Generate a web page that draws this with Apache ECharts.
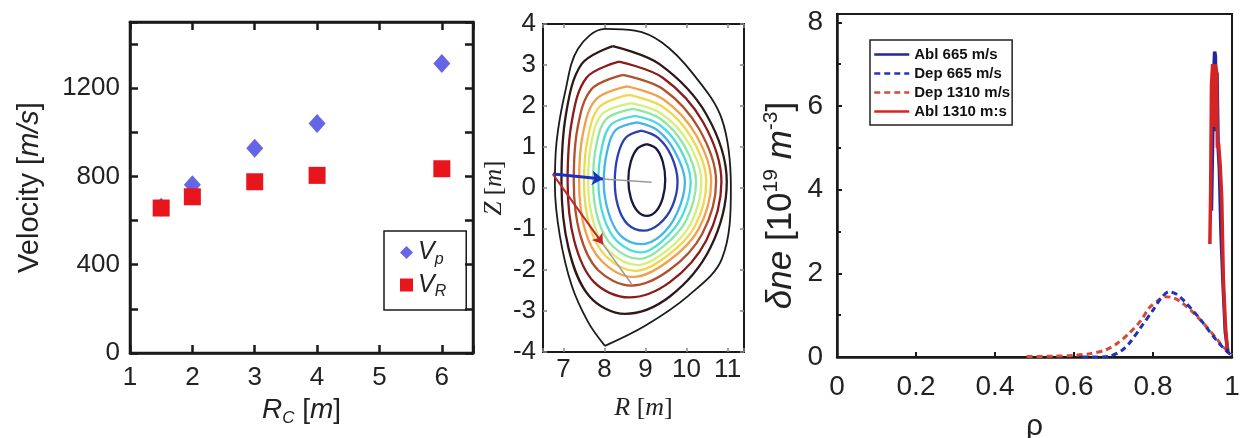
<!DOCTYPE html>
<html><head><meta charset="utf-8">
<script src="https://cdn.jsdelivr.net/npm/echarts@6/dist/echarts.min.js"></script>
<style>html,body{margin:0;padding:0;background:#fff}#c{width:1243px;height:438px}</style>
</head><body><div id="c"></div>
<script>
// ---------- Panel 1: velocity vs R_C ----------
const rcValues = [1.5, 2, 3, 4, 6];
const vpValues = [660, 762, 928, 1040, 1312];
const vrValues = [657, 708, 776, 805, 835];

// ---------- Panel 2: flux surfaces [R, Z] ----------
const contour1 = [[8.01,-3.85],[7.6,-3.27],[7.2,-2.38],[6.91,-1.16],[6.79,0.06],[6.83,1.12],[7.04,2.34],[7.35,3.39],[8.01,3.88],[8.74,3.84],[9.4,3.55],[10.13,2.82],[10.86,1.68],[11.08,0.0],[10.86,-1.73],[10.04,-2.63],[8.99,-3.36],[8.01,-3.85]];
const contour2 = [[8.2,3.46],[9.34,3.02],[10.48,1.8],[10.98,0.15],[10.58,-1.46],[9.6,-2.64],[8.5,-3.07],[7.63,-2.64],[7.12,-1.46],[6.95,0.15],[7.06,1.8],[7.44,3.02],[8.2,3.46]];
const contour3 = [[8.35,3.08],[9.42,2.69],[10.4,1.61],[10.85,0.15],[10.48,-1.28],[9.6,-2.29],[8.6,-2.67],[7.74,-2.29],[7.26,-1.28],[7.1,0.15],[7.2,1.61],[7.56,2.69],[8.35,3.08]];
const contour4 = [[8.45,2.76],[9.43,2.41],[10.3,1.45],[10.72,0.15],[10.38,-1.12],[9.58,-2.0],[8.65,-2.38],[7.84,-2.0],[7.4,-1.12],[7.25,0.15],[7.34,1.45],[7.68,2.41],[8.45,2.76]];
const contour5 = [[8.55,2.48],[9.44,2.16],[10.22,1.31],[10.6,0.15],[10.29,-1.01],[9.56,-1.78],[8.7,-2.17],[7.93,-1.78],[7.52,-1.01],[7.38,0.15],[7.47,1.31],[7.79,2.16],[8.55,2.48]];
const contour6 = [[8.6,2.27],[9.42,1.98],[10.13,1.21],[10.48,0.15],[10.2,-0.94],[9.52,-1.66],[8.75,-2.02],[8.03,-1.66],[7.64,-0.94],[7.5,0.15],[7.59,1.21],[7.88,1.98],[8.6,2.27]];
const contour7 = [[8.65,2.07],[9.39,1.81],[10.04,1.11],[10.36,0.15],[10.1,-0.87],[9.5,-1.54],[8.8,-1.88],[8.11,-1.54],[7.74,-0.87],[7.6,0.15],[7.68,1.11],[7.95,1.81],[8.65,2.07]];
const contour8 = [[8.7,1.93],[9.36,1.69],[9.94,1.04],[10.23,0.15],[9.99,-0.79],[9.44,-1.42],[8.85,-1.73],[8.2,-1.42],[7.85,-0.79],[7.72,0.15],[7.8,1.04],[8.05,1.69],[8.7,1.93]];
const contour9 = [[8.75,1.76],[9.33,1.55],[9.84,0.96],[10.1,0.15],[9.88,-0.71],[9.4,-1.3],[8.9,-1.57],[8.31,-1.3],[7.98,-0.71],[7.85,0.15],[7.93,0.96],[8.16,1.55],[8.75,1.76]];
const contour10 = [[8.8,1.6],[9.29,1.41],[9.72,0.88],[9.96,0.15],[9.77,-0.61],[9.37,-1.16],[8.9,-1.37],[8.39,-1.16],[8.1,-0.61],[7.98,0.15],[8.06,0.88],[8.27,1.41],[8.8,1.6]];
const contour11 = [[8.9,1.4],[9.3,1.23],[9.63,0.78],[9.78,0.15],[9.65,-0.45],[9.33,-0.88],[8.95,-1.04],[8.56,-0.88],[8.33,-0.45],[8.25,0.15],[8.32,0.78],[8.52,1.23],[8.9,1.4]];
const contour12 = [[9.03,1.07],[9.26,0.96],[9.42,0.64],[9.48,0.2],[9.42,-0.24],[9.26,-0.56],[9.03,-0.68],[8.8,-0.56],[8.64,-0.24],[8.58,0.2],[8.64,0.64],[8.8,0.96],[9.03,1.07]];
const contours = [contour1,contour2,contour3,contour4,contour5,contour6,contour7,contour8,contour9,contour10,contour11,contour12];
const contourColors = ['#1c1c1c','#2e1818','#8a1c1c','#b0502c','#f0a04e','#f0d84e','#d6ee7a','#8fe6a6','#4fdcdc','#44b4ea','#2c3fae','#17183f'];
const blueArrow = [[6.74,0.34],[7.96,0.22]];
const blueRay = [[7.96,0.22],[9.15,0.14]];
const redArrow = [[6.74,0.34],[7.96,-1.37]];
const redRay = [[7.96,-1.37],[8.66,-2.34]];

// ---------- Panel 3: density perturbation vs rho ----------
const rhoAbl665 = [0.948,0.951,0.953,0.956,0.958,0.960,0.962,0.965,0.968,0.972,0.977,0.983,0.990];
const abl665    = [3.5,  5.2,  6.6,  7.3,  7.2,  5.4,  6.8,  5.0,  4.5,  3.0,  1.8,  0.6,  0.1];
const rhoDep665 = [0.62,0.66,0.69,0.72,0.74,0.77,0.80,0.82,0.84,0.86,0.88,0.90,0.92,0.94,0.96,0.98,1.0];
const dep665    = [0.0, 0.0, 0.02,0.15,0.33,0.72,1.12,1.4, 1.56,1.5, 1.33,1.12,0.9, 0.65,0.41,0.2, 0.03];
const rhoDep1310 = [0.48,0.55,0.60,0.64,0.68,0.71,0.74,0.77,0.79,0.81,0.83,0.85,0.87,0.90,0.93,0.96,0.98,1.0];
const dep1310    = [0.01,0.02,0.04,0.08,0.17,0.33,0.57,0.88,1.17,1.33,1.44,1.42,1.32,1.08,0.78,0.45,0.22,0.05];
const rhoAbl1310 = [0.944,0.946,0.948,0.951,0.954,0.956,0.958,0.961,0.963,0.966,0.970,0.974,0.978,0.983,0.988];
const abl1310    = [2.7,  4.0,  6.5,  7.0,  6.6,  5.5,  7.0,  6.8,  5.0,  5.1,  4.6,  3.8,  1.9,  0.8,  0.2];

const zip = (a, b) => a.map((v, i) => [v, b[i]]);

const SANS = 'Liberation Sans';
const SERIF = 'Liberation Serif';
const INK = '#1a1a1a';

function boxAxis(gridIndex, opts) {
  return Object.assign({
    gridIndex, type: 'value', splitLine: { show: false },
    axisLine: { show: true, onZero: false, lineStyle: { color: INK, width: 2.5 } },
    axisTick: { show: true, inside: true, length: 8, lineStyle: { color: INK, width: 2.5 } },
    axisLabel: { show: false }
  }, opts);
}

const option = {
  animation: false,
  backgroundColor: '#fff',
  grid: [
    { left: 130, top: 22, width: 343, height: 331, show: true, borderColor: INK, borderWidth: 2.5, outerBoundsMode: 'none', containLabel: false },
    { left: 543, top: 24, width: 201, height: 328, show: true, borderColor: INK, borderWidth: 2, outerBoundsMode: 'none', containLabel: false },
    { left: 837, top: 14, width: 395, height: 343, show: true, borderColor: INK, borderWidth: 2, outerBoundsMode: 'none', containLabel: false }
  ],
  xAxis: [
    boxAxis(0, { min: 1, max: 6.5, interval: 1, position: 'bottom',
      axisLabel: { show: true, fontSize: 26, color: '#222', fontFamily: SANS, margin: 12,
        formatter: v => Number.isInteger(v) ? String(v) : '' },
      name: '{i|R}{sub|C}{n| [}{i|m}{n|]}', nameLocation: 'middle', nameGap: 38,
      nameTextStyle: { color: '#222', rich: {
        i: { fontSize: 28, fontStyle: 'italic', fontFamily: SANS, color: '#222', lineHeight: 34 },
        n: { fontSize: 28, fontFamily: SANS, color: '#222', lineHeight: 34 },
        sub: { fontSize: 17, fontStyle: 'italic', fontFamily: SANS, color: '#222', lineHeight: 14, verticalAlign: 'bottom' } } } }),
    boxAxis(0, { min: 1, max: 6.5, interval: 1, position: 'top' }),
    boxAxis(1, { min: 6.5, max: 11.4, splitNumber: 5, position: 'bottom',
      axisLine: { show: true, onZero: false, lineStyle: { color: INK, width: 2 } },
      axisTick: { show: true, inside: true, length: 4, lineStyle: { color: '#888', width: 1.5 } },
      axisLabel: { show: true, fontSize: 26, color: '#222', fontFamily: SANS, margin: 5,
        formatter: v => Number.isInteger(v) ? String(v) : '' },
      name: '{i|R}{n| [}{i|m}{n|]}', nameLocation: 'middle', nameGap: 43,
      nameTextStyle: { rich: {
        i: { fontSize: 26, fontStyle: 'italic', fontFamily: SERIF, color: '#222' },
        n: { fontSize: 26, fontFamily: SERIF, color: '#222' } } } }),
    boxAxis(1, { min: 6.5, max: 11.4, splitNumber: 5, position: 'top',
      axisLine: { show: true, onZero: false, lineStyle: { color: INK, width: 2 } },
      axisTick: { show: true, inside: true, length: 4, lineStyle: { color: '#888', width: 1.5 } } }),
    boxAxis(2, { min: 0, max: 1, interval: 0.2, position: 'bottom',
      axisLine: { show: true, onZero: false, lineStyle: { color: INK, width: 2.5 } },
      axisTick: { show: true, inside: true, length: 5, lineStyle: { color: INK, width: 2 } },
      axisLabel: { show: true, fontSize: 28, color: '#222', fontFamily: SANS, margin: 16 },
      name: 'ρ', nameLocation: 'middle', nameGap: 55,
      nameTextStyle: { fontSize: 30, fontFamily: SANS, color: '#222' } })
  ],
  yAxis: [
    boxAxis(0, { min: 0, max: 1500, interval: 200, position: 'left',
      axisLabel: { show: true, fontSize: 26, color: '#222', fontFamily: SANS, margin: 10,
        formatter: v => (v % 400 === 0) ? String(v) : '' },
      name: '{n|Velocity [}{i|m/s}{n|]}', nameLocation: 'middle', nameGap: 86, nameRotate: 90,
      nameTextStyle: { rich: {
        i: { fontSize: 29, fontStyle: 'italic', fontFamily: SANS, color: '#222' },
        n: { fontSize: 29, fontFamily: SANS, color: '#222' } } } }),
    boxAxis(0, { min: 0, max: 1500, interval: 200, position: 'right' }),
    boxAxis(1, { min: -4, max: 4, interval: 1, position: 'left',
      axisLine: { show: true, onZero: false, lineStyle: { color: INK, width: 2 } },
      axisTick: { show: true, inside: true, length: 4, lineStyle: { color: '#888', width: 1.5 } },
      axisLabel: { show: true, fontSize: 26, color: '#222', fontFamily: SANS, margin: 7 },
      name: '{i|Z}{n| [}{i|m}{n|]}', nameLocation: 'middle', nameGap: 36, nameRotate: 90,
      nameTextStyle: { rich: {
        i: { fontSize: 25, fontStyle: 'italic', fontFamily: SERIF, color: '#222' },
        n: { fontSize: 25, fontFamily: SERIF, color: '#222' } } } }),
    boxAxis(1, { min: -4, max: 4, interval: 1, position: 'right',
      axisLine: { show: true, onZero: false, lineStyle: { color: INK, width: 2 } },
      axisTick: { show: true, inside: true, length: 4, lineStyle: { color: '#888', width: 1.5 } } }),
    boxAxis(2, { min: 0, max: 8.2, interval: 2, position: 'left',
      axisLine: { show: true, onZero: false, lineStyle: { color: INK, width: 2.5 } },
      axisTick: { show: true, inside: true, length: 5, lineStyle: { color: INK, width: 2 } },
      minorTick: { show: true, splitNumber: 2, length: 4, lineStyle: { color: INK, width: 2 } },
      axisLabel: { show: true, fontSize: 28, color: '#222', fontFamily: SANS, margin: 14,
        formatter: v => (v % 2 === 0) ? String(v) : '' },
      name: '{i|δne}{n| [10}{sup|19}{n| }{i|m}{sup|-3}{n|]}', nameLocation: 'middle', nameGap: 36, nameRotate: 90,
      nameTextStyle: { padding: [0, 40, 0, 0], rich: {
        i: { fontSize: 35, fontStyle: 'italic', fontFamily: SANS, color: '#222', lineHeight: 40 },
        n: { fontSize: 35, fontFamily: SANS, color: '#222', lineHeight: 40 },
        sup: { fontSize: 21, fontFamily: SANS, color: '#222', lineHeight: 20, verticalAlign: 'top' } } } })
  ],
  legend: [
    { orient: 'vertical', left: 384, top: 231, selectedMode: false,
      data: [{ name: 'Vp', icon: 'diamond' }, { name: 'VR', icon: 'rect' }],
      borderColor: INK, borderWidth: 1.5, borderRadius: 0, padding: [9, 20, 10, 16],
      itemWidth: 13, itemHeight: 13, itemGap: 5,
      formatter: n => n === 'Vp' ? '{v|V}{s|p}' : '{v|V}{s|R}',
      textStyle: { rich: {
        v: { fontSize: 25, fontStyle: 'italic', fontFamily: SANS, color: '#222', lineHeight: 30 },
        s: { fontSize: 16, fontStyle: 'italic', fontFamily: SANS, color: '#222', lineHeight: 14, verticalAlign: 'bottom' } } } },
    { orient: 'vertical', left: 870, top: 40, selectedMode: false,
      data: ['Abl 665 m/s', 'Dep 665 m/s', 'Dep 1310 m/s', 'Abl 1310 m:s'],
      borderColor: '#222', borderWidth: 1.5, borderRadius: 0, padding: [7, 2, 6, 3],
      itemWidth: 35, itemHeight: 12, itemGap: 4,
      itemStyle: { opacity: 0 },
      lineStyle: { width: 2.5 },
      textStyle: { fontSize: 15, fontWeight: 'bold', fontFamily: SANS, color: '#111', lineHeight: 14 } }
  ],
  series: []
};

// panel 1 (xAxis 0, yAxis 0)
option.series.push({ type: 'scatter', name: 'Vp', xAxisIndex: 0, yAxisIndex: 0, symbol: 'diamond', symbolSize: [17, 19],
  itemStyle: { color: '#6565e6', opacity: 1 }, data: zip(rcValues, vpValues), z: 3 });
option.series.push({ type: 'scatter', name: 'VR', xAxisIndex: 0, yAxisIndex: 0, symbol: 'rect', symbolSize: 17,
  itemStyle: { color: '#e8161c', opacity: 1 }, data: zip(rcValues, vrValues), z: 4 });

// panel 2 (xAxis 2, yAxis 2)
contours.forEach((c, i) => {
  option.series.push({ type: 'line', xAxisIndex: 2, yAxisIndex: 2, data: c, symbol: 'none', smooth: 0.35,
    lineStyle: { color: contourColors[i], width: i === 0 ? 1.8 : 2.3 }, silent: true, z: 2 });
});
option.series.push({ type: 'lines', coordinateSystem: 'cartesian2d', xAxisIndex: 2, yAxisIndex: 2, symbol: 'none',
  lineStyle: { color: '#9a9a9a', width: 1.5, opacity: 1 }, data: [{ coords: blueRay }, { coords: redRay }], z: 3 });
option.series.push({ type: 'lines', coordinateSystem: 'cartesian2d', xAxisIndex: 2, yAxisIndex: 2,
  symbol: ['none', 'arrow'], symbolSize: 11,
  lineStyle: { color: '#1f2fc0', width: 3, opacity: 1 }, data: [{ coords: blueArrow }], z: 4 });
option.series.push({ type: 'lines', coordinateSystem: 'cartesian2d', xAxisIndex: 2, yAxisIndex: 2,
  symbol: ['none', 'arrow'], symbolSize: 10,
  lineStyle: { color: '#c02828', width: 2, opacity: 1 }, data: [{ coords: redArrow }], z: 4 });

// panel 3 (xAxis 4, yAxis 4)
option.series.push({ type: 'line', name: 'Dep 1310 m/s', xAxisIndex: 4, yAxisIndex: 4, data: zip(rhoDep1310, dep1310),
  symbol: 'none', smooth: 0.3, itemStyle: { color: '#d4493a' }, lineStyle: { color: '#d4493a', width: 3, type: [6, 4] }, z: 3 });
option.series.push({ type: 'line', name: 'Dep 665 m/s', xAxisIndex: 4, yAxisIndex: 4, data: zip(rhoDep665, dep665),
  symbol: 'none', smooth: 0.3, itemStyle: { color: '#2233b8' }, lineStyle: { color: '#2233b8', width: 3, type: [6, 4] }, z: 3 });
option.series.push({ type: 'line', name: 'Abl 665 m/s', xAxisIndex: 4, yAxisIndex: 4, data: zip(rhoAbl665, abl665),
  symbol: 'none', itemStyle: { color: '#25259a' }, lineStyle: { color: '#25259a', width: 3.5 }, z: 4 });
option.series.push({ type: 'line', name: 'Abl 1310 m:s', xAxisIndex: 4, yAxisIndex: 4, data: zip(rhoAbl1310, abl1310),
  symbol: 'none', itemStyle: { color: '#d42424' }, lineStyle: { color: '#d42424', width: 3.5 }, z: 5 });

const chart = echarts.init(document.getElementById('c'), null, { renderer: 'canvas' });
chart.setOption(option);
</script>
</body></html>
